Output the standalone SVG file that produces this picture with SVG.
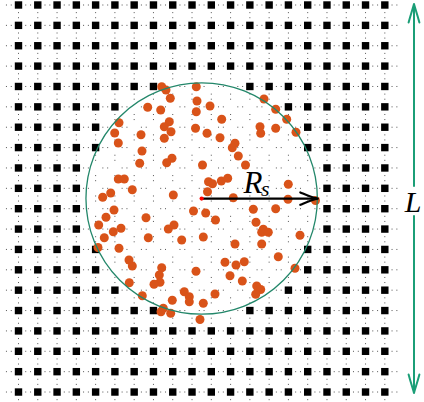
<svg xmlns="http://www.w3.org/2000/svg" xmlns:xlink="http://www.w3.org/1999/xlink" width="424" height="402" viewBox="0 0 424 402">
<style>
.bg{fill:#ffffff}
.dh{stroke:#555;stroke-width:1;stroke-dasharray:1 3.82 1 13.46;fill:none}
.dv{stroke:#555;stroke-width:1;stroke-dasharray:1 4.09 1 14.28;fill:none}
.sq{fill:#000}
.p{fill:#d95319}
.circ{fill:none;stroke:#23876a;stroke-width:1.3}
.arr{stroke:#000;stroke-width:2.2;fill:none;stroke-linecap:round;stroke-linejoin:round}
.garr{stroke:#1b9e77;stroke-width:2;fill:none;stroke-linecap:round;stroke-linejoin:round}
.lbl{font-family:"Liberation Serif","DejaVu Serif",serif;font-style:italic;fill:#000}
</style>
<defs>
<rect id="s" class="sq" width="7.4" height="7.4"/>
<g id="D"><use xlink:href="#s" href="#s" x="14.8"/><use xlink:href="#s" href="#s" x="34.08"/><use xlink:href="#s" href="#s" x="53.36"/><use xlink:href="#s" href="#s" x="72.64"/></g>
<g id="C"><use xlink:href="#D" href="#D"/><use xlink:href="#s" href="#s" x="91.92"/></g>
<g id="B"><use xlink:href="#C" href="#C"/><use xlink:href="#s" href="#s" x="111.2"/></g>
<g id="A"><use xlink:href="#B" href="#B"/><use xlink:href="#s" href="#s" x="130.48"/><use xlink:href="#s" href="#s" x="149.76"/></g>
<g id="F"><use xlink:href="#A" href="#A"/><use xlink:href="#A" href="#A" x="154.24"/><use xlink:href="#D" href="#D" x="308.48"/></g>
</defs>
<rect class="bg" x="0" y="0" width="424" height="402"/>
<g id="dotted-grid">
<line class="dh" x1="5.95" y1="5" x2="398" y2="5"/>
<line class="dh" x1="5.95" y1="25.37" x2="398" y2="25.37"/>
<line class="dh" x1="5.95" y1="45.74" x2="398" y2="45.74"/>
<line class="dh" x1="5.95" y1="66.11" x2="398" y2="66.11"/>
<line class="dh" x1="5.95" y1="86.48" x2="398" y2="86.48"/>
<line class="dh" x1="5.95" y1="106.85" x2="398" y2="106.85"/>
<line class="dh" x1="5.95" y1="127.22" x2="398" y2="127.22"/>
<line class="dh" x1="5.95" y1="147.59" x2="398" y2="147.59"/>
<line class="dh" x1="5.95" y1="167.96" x2="398" y2="167.96"/>
<line class="dh" x1="5.95" y1="188.33" x2="398" y2="188.33"/>
<line class="dh" x1="5.95" y1="208.7" x2="398" y2="208.7"/>
<line class="dh" x1="5.95" y1="229.07" x2="398" y2="229.07"/>
<line class="dh" x1="5.95" y1="249.44" x2="398" y2="249.44"/>
<line class="dh" x1="5.95" y1="269.81" x2="398" y2="269.81"/>
<line class="dh" x1="5.95" y1="290.18" x2="398" y2="290.18"/>
<line class="dh" x1="5.95" y1="310.55" x2="398" y2="310.55"/>
<line class="dh" x1="5.95" y1="330.92" x2="398" y2="330.92"/>
<line class="dh" x1="5.95" y1="351.29" x2="398" y2="351.29"/>
<line class="dh" x1="5.95" y1="371.66" x2="398" y2="371.66"/>
<line class="dh" x1="5.95" y1="392.03" x2="398" y2="392.03"/>
<line class="dv" x1="18.5" y1="-8.23" x2="18.5" y2="402"/>
<line class="dv" x1="37.78" y1="-8.23" x2="37.78" y2="402"/>
<line class="dv" x1="57.06" y1="-8.23" x2="57.06" y2="402"/>
<line class="dv" x1="76.34" y1="-8.23" x2="76.34" y2="402"/>
<line class="dv" x1="95.62" y1="-8.23" x2="95.62" y2="402"/>
<line class="dv" x1="114.9" y1="-8.23" x2="114.9" y2="402"/>
<line class="dv" x1="134.18" y1="-8.23" x2="134.18" y2="402"/>
<line class="dv" x1="153.46" y1="-8.23" x2="153.46" y2="402"/>
<line class="dv" x1="172.74" y1="-8.23" x2="172.74" y2="402"/>
<line class="dv" x1="192.02" y1="-8.23" x2="192.02" y2="402"/>
<line class="dv" x1="211.3" y1="-8.23" x2="211.3" y2="402"/>
<line class="dv" x1="230.58" y1="-8.23" x2="230.58" y2="402"/>
<line class="dv" x1="249.86" y1="-8.23" x2="249.86" y2="402"/>
<line class="dv" x1="269.14" y1="-8.23" x2="269.14" y2="402"/>
<line class="dv" x1="288.42" y1="-8.23" x2="288.42" y2="402"/>
<line class="dv" x1="307.7" y1="-8.23" x2="307.7" y2="402"/>
<line class="dv" x1="326.98" y1="-8.23" x2="326.98" y2="402"/>
<line class="dv" x1="346.26" y1="-8.23" x2="346.26" y2="402"/>
<line class="dv" x1="365.54" y1="-8.23" x2="365.54" y2="402"/>
<line class="dv" x1="384.82" y1="-8.23" x2="384.82" y2="402"/>
</g>
<g id="lattice-squares">
<use xlink:href="#F" href="#F" y="1.3"/>
<use xlink:href="#F" href="#F" y="21.67"/>
<use xlink:href="#F" href="#F" y="42.04"/>
<use xlink:href="#F" href="#F" y="62.41"/>
<use xlink:href="#A" href="#A" y="82.78"/><use xlink:href="#A" href="#A" x="231.36" y="82.78"/>
<use xlink:href="#B" href="#B" y="103.15"/><use xlink:href="#B" href="#B" x="269.92" y="103.15"/>
<use xlink:href="#C" href="#C" y="123.52"/><use xlink:href="#C" href="#C" x="289.2" y="123.52"/>
<use xlink:href="#C" href="#C" y="143.89"/><use xlink:href="#C" href="#C" x="289.2" y="143.89"/>
<use xlink:href="#D" href="#D" y="164.26"/><use xlink:href="#D" href="#D" x="308.48" y="164.26"/>
<use xlink:href="#D" href="#D" y="184.63"/><use xlink:href="#D" href="#D" x="308.48" y="184.63"/>
<use xlink:href="#D" href="#D" y="205"/><use xlink:href="#D" href="#D" x="308.48" y="205"/>
<use xlink:href="#D" href="#D" y="225.37"/><use xlink:href="#D" href="#D" x="308.48" y="225.37"/>
<use xlink:href="#C" href="#C" y="245.74"/><use xlink:href="#C" href="#C" x="289.2" y="245.74"/>
<use xlink:href="#C" href="#C" y="266.11"/><use xlink:href="#C" href="#C" x="289.2" y="266.11"/>
<use xlink:href="#B" href="#B" y="286.48"/><use xlink:href="#B" href="#B" x="269.92" y="286.48"/>
<use xlink:href="#A" href="#A" y="306.85"/><use xlink:href="#A" href="#A" x="231.36" y="306.85"/>
<use xlink:href="#F" href="#F" y="327.22"/>
<use xlink:href="#F" href="#F" y="347.59"/>
<use xlink:href="#F" href="#F" y="367.96"/>
<use xlink:href="#F" href="#F" y="388.33"/>
</g>
<g id="particles">
<circle class="p" cx="161.7" cy="86.7" r="4.5"/>
<circle class="p" cx="166" cy="90" r="4.5"/>
<circle class="p" cx="196.3" cy="86.7" r="4.5"/>
<circle class="p" cx="170.3" cy="98.3" r="4.5"/>
<circle class="p" cx="197" cy="101" r="4.5"/>
<circle class="p" cx="147.7" cy="107.3" r="4.5"/>
<circle class="p" cx="160.7" cy="110" r="4.5"/>
<circle class="p" cx="196.3" cy="111.7" r="4.5"/>
<circle class="p" cx="210" cy="106" r="4.5"/>
<circle class="p" cx="119" cy="122.7" r="4.5"/>
<circle class="p" cx="169.3" cy="121.7" r="4.5"/>
<circle class="p" cx="164.3" cy="126.7" r="4.5"/>
<circle class="p" cx="171" cy="131.7" r="4.5"/>
<circle class="p" cx="195.5" cy="128.3" r="4.5"/>
<circle class="p" cx="207" cy="133.3" r="4.5"/>
<circle class="p" cx="114.7" cy="133" r="4.5"/>
<circle class="p" cx="141" cy="134.7" r="4.5"/>
<circle class="p" cx="164.3" cy="138.3" r="4.5"/>
<circle class="p" cx="118.3" cy="143" r="4.5"/>
<circle class="p" cx="142" cy="151" r="4.5"/>
<circle class="p" cx="172" cy="158.3" r="4.5"/>
<circle class="p" cx="166.7" cy="162.7" r="4.5"/>
<circle class="p" cx="139.7" cy="163.3" r="4.5"/>
<circle class="p" cx="202.5" cy="165" r="4.5"/>
<circle class="p" cx="118.3" cy="179" r="4.5"/>
<circle class="p" cx="124.3" cy="179" r="4.5"/>
<circle class="p" cx="132.3" cy="189.7" r="4.5"/>
<circle class="p" cx="110.7" cy="193" r="4.5"/>
<circle class="p" cx="102.7" cy="197.3" r="4.5"/>
<circle class="p" cx="173.3" cy="195" r="4.5"/>
<circle class="p" cx="208.5" cy="181.8" r="4.5"/>
<circle class="p" cx="212.5" cy="183.8" r="4.5"/>
<circle class="p" cx="207.5" cy="191.8" r="4.5"/>
<circle class="p" cx="221.7" cy="119.3" r="4.5"/>
<circle class="p" cx="220" cy="137.7" r="4.5"/>
<circle class="p" cx="260" cy="126.7" r="4.5"/>
<circle class="p" cx="260.7" cy="133.3" r="4.5"/>
<circle class="p" cx="275.7" cy="128.3" r="4.5"/>
<circle class="p" cx="264" cy="99" r="4.5"/>
<circle class="p" cx="275.7" cy="109.3" r="4.5"/>
<circle class="p" cx="286.7" cy="119.3" r="4.5"/>
<circle class="p" cx="296" cy="132.3" r="4.5"/>
<circle class="p" cx="235" cy="143.3" r="4.5"/>
<circle class="p" cx="232.3" cy="147.7" r="4.5"/>
<circle class="p" cx="238.3" cy="156" r="4.5"/>
<circle class="p" cx="245.5" cy="165" r="4.5"/>
<circle class="p" cx="221.3" cy="181" r="4.5"/>
<circle class="p" cx="227.7" cy="178.3" r="4.5"/>
<circle class="p" cx="233.3" cy="197.7" r="4.5"/>
<circle class="p" cx="288.3" cy="184.3" r="4.5"/>
<circle class="p" cx="288" cy="199.3" r="4.5"/>
<circle class="p" cx="315.5" cy="200.5" r="4.5"/>
<circle class="p" cx="193.5" cy="211" r="4.5"/>
<circle class="p" cx="205.7" cy="213" r="4.5"/>
<circle class="p" cx="253.3" cy="209.3" r="4.5"/>
<circle class="p" cx="275.7" cy="208.7" r="4.5"/>
<circle class="p" cx="215.5" cy="220" r="4.5"/>
<circle class="p" cx="256" cy="222.3" r="4.5"/>
<circle class="p" cx="263.3" cy="229.3" r="4.5"/>
<circle class="p" cx="261.7" cy="232.3" r="4.5"/>
<circle class="p" cx="268.3" cy="232.3" r="4.5"/>
<circle class="p" cx="203.3" cy="237" r="4.5"/>
<circle class="p" cx="235" cy="244" r="4.5"/>
<circle class="p" cx="261.7" cy="244" r="4.5"/>
<circle class="p" cx="300" cy="235.3" r="4.5"/>
<circle class="p" cx="278.3" cy="256.7" r="4.5"/>
<circle class="p" cx="225" cy="262.3" r="4.5"/>
<circle class="p" cx="236" cy="265" r="4.5"/>
<circle class="p" cx="244.3" cy="261.7" r="4.5"/>
<circle class="p" cx="196" cy="271.3" r="4.5"/>
<circle class="p" cx="230" cy="275.7" r="4.5"/>
<circle class="p" cx="242.3" cy="281" r="4.5"/>
<circle class="p" cx="256.7" cy="286" r="4.5"/>
<circle class="p" cx="260.7" cy="289.5" r="4.5"/>
<circle class="p" cx="255.7" cy="294.3" r="4.5"/>
<circle class="p" cx="295" cy="268.3" r="4.5"/>
<circle class="p" cx="215" cy="294" r="4.5"/>
<circle class="p" cx="203.3" cy="303.3" r="4.5"/>
<circle class="p" cx="200" cy="319.5" r="4.5"/>
<circle class="p" cx="114" cy="210" r="4.5"/>
<circle class="p" cx="106" cy="217.3" r="4.5"/>
<circle class="p" cx="98.7" cy="225" r="4.5"/>
<circle class="p" cx="113.3" cy="231.7" r="4.5"/>
<circle class="p" cx="121" cy="228.3" r="4.5"/>
<circle class="p" cx="104.3" cy="237.7" r="4.5"/>
<circle class="p" cx="146" cy="217.7" r="4.5"/>
<circle class="p" cx="148.3" cy="237.7" r="4.5"/>
<circle class="p" cx="168.3" cy="229" r="4.5"/>
<circle class="p" cx="174" cy="225" r="4.5"/>
<circle class="p" cx="181.7" cy="240" r="4.5"/>
<circle class="p" cx="119" cy="248.3" r="4.5"/>
<circle class="p" cx="98" cy="247.5" r="4.5"/>
<circle class="p" cx="129" cy="260" r="4.5"/>
<circle class="p" cx="132.3" cy="266" r="4.5"/>
<circle class="p" cx="161.7" cy="267.7" r="4.5"/>
<circle class="p" cx="159.3" cy="275" r="4.5"/>
<circle class="p" cx="160" cy="282.3" r="4.5"/>
<circle class="p" cx="154" cy="284.3" r="4.5"/>
<circle class="p" cx="129.3" cy="282.7" r="4.5"/>
<circle class="p" cx="142.3" cy="295.7" r="4.5"/>
<circle class="p" cx="184.3" cy="291.7" r="4.5"/>
<circle class="p" cx="189.3" cy="296.7" r="4.5"/>
<circle class="p" cx="189.3" cy="301.7" r="4.5"/>
<circle class="p" cx="172.3" cy="300.3" r="4.5"/>
<circle class="p" cx="163.3" cy="308.3" r="4.5"/>
<circle class="p" cx="161" cy="311.7" r="4.5"/>
<circle class="p" cx="170.7" cy="313.3" r="4.5"/>
</g>
<g id="region">
<circle class="circ" cx="201.65" cy="198.5" r="115.7"/>
</g>
<g id="connectors">
<line class="arr" x1="201.65" y1="198.6" x2="316.5" y2="198.6"/>
<path class="arr" d="M300.3,192.4 C306.5,195 312.5,197.8 317.8,198.6 C312.5,199.4 306.5,202.2 300.3,204.8"/>
<line class="garr" x1="414" y1="5.5" x2="414" y2="186"/>
<line class="garr" x1="414" y1="216" x2="414" y2="391.5"/>
<path class="garr" d="M408.6,22.5 C410.7,14.5 412.8,8.5 414,4 C415.2,8.5 417.3,14.5 419.4,22.5"/>
<path class="garr" d="M408.6,374.5 C410.7,382.5 412.8,388.5 414,393 C415.2,388.5 417.3,382.5 419.4,374.5"/>
</g>
<g id="center">
<circle cx="201.65" cy="198.6" r="2.1" fill="#ff0000"/>
</g>
<g id="label-Rs">
<text class="lbl" x="243.5" y="192.5" font-size="31">R</text>
<text class="lbl" x="261" y="196" font-size="22">s</text>
</g>
<g id="label-L">
<text class="lbl" x="413" y="211.5" font-size="30" text-anchor="middle">L</text>
</g>
</svg>
